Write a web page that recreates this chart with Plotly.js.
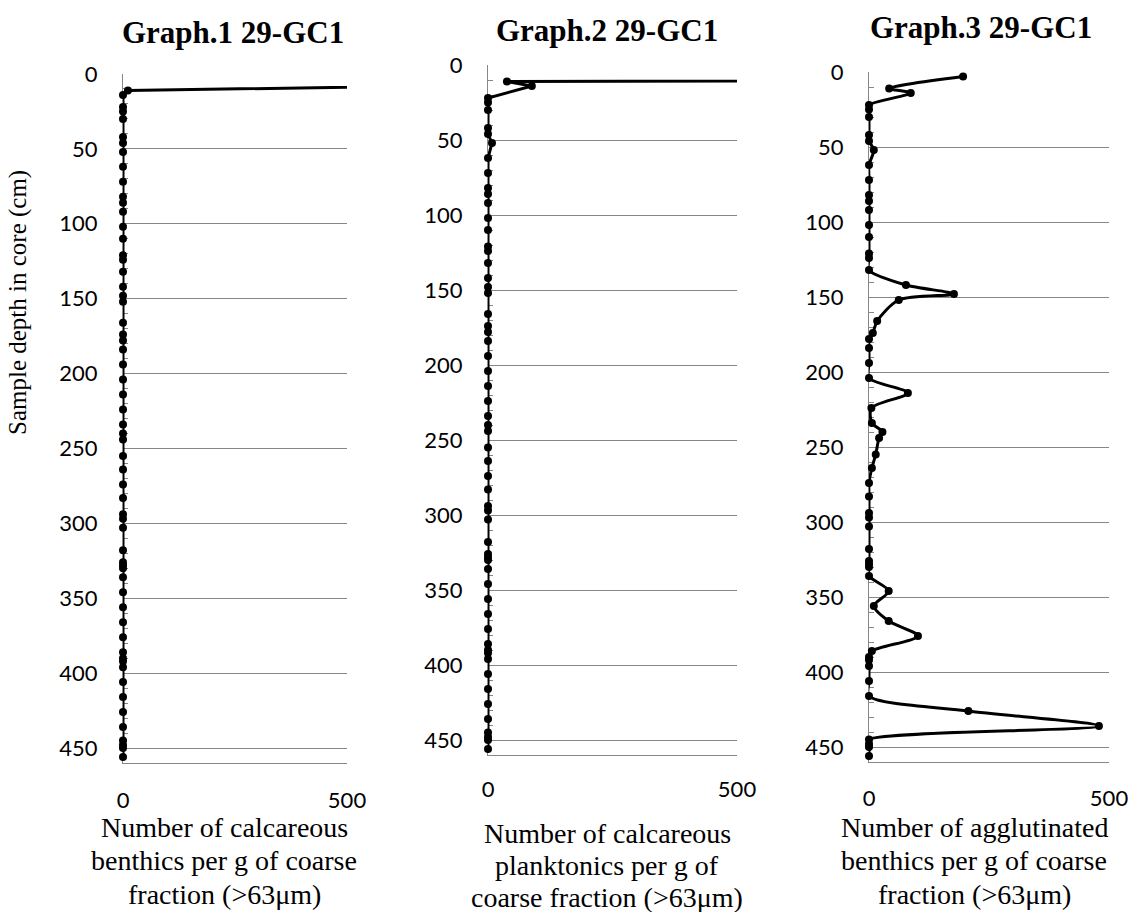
<!DOCTYPE html>
<html><head><meta charset="utf-8">
<script src="https://cdn.plot.ly/plotly-3.0.1.min.js"></script>
<style>html,body{margin:0;padding:0;background:#fff}#chart{width:1133px;height:912px}</style>
</head><body><div id="chart"></div>
<script>
// Sample depths (cm) shared by all three graphs
const depth = [3,11,14,22,25,30,42,46,52,62,
  72,82,86,92,102,110,121,124,132,142,
  148,152,166,174,178,184,194,204,214,224,
  234,240,244,255,264,274,283,294,297,303,
  318,326,328,330,336,346,356,366,376,386,
  390,392,396,406,416,426,436,445,448,450,
  456];
// Graph.1: calcareous benthics per g coarse fraction
const calcBenthics = [1850,11,0,0,0,0,0,0,0,0,
  0,0,0,0,0,0,0,0,0,0,
  0,0,0,0,0,0,0,0,0,0,
  0,0,0,0,0,0,0,0,0,0,
  0,0,0,0,0,0,0,0,0,0,
  0,0,0,0,0,0,0,0,0,0,
  0];
// Graph.2: calcareous planktonics per g coarse fraction
const calcPlanktonics = [10000,38,88,0,0,0,0,0,8,0,
  0,0,0,0,0,0,0,0,0,0,
  0,0,0,0,0,0,0,0,0,0,
  0,0,0,0,0,0,0,0,0,0,
  0,0,0,0,0,0,0,0,0,0,
  0,0,0,0,0,0,0,0,0,0,
  0];
// Graph.3: agglutinated benthics per g coarse fraction
const agglBenthics = [196,42,87,0,0,0,0,0,10,0,
  0,0,0,0,0,0,0,0,0,77,
  177,62,17,8,0,0,0,0,81,5,
  6,28,21,14,6,0,0,0,0,0,
  0,0,0,0,0,41,10,41,102,6,
  0,0,0,0,0,207,479,0,0,0,
  0];
const xTickVals = [0, 500];
const titles = ['Graph.1 29-GC1', 'Graph.2 29-GC1', 'Graph.3 29-GC1'];
const xTitles = [
  ['Number of calcareous', 'benthics per g of coarse', 'fraction (>63\u03bcm)'],
  ['Number of calcareous', 'planktonics per g of', 'coarse fraction (>63\u03bcm)'],
  ['Number of agglutinated', 'benthics per g of coarse', 'fraction (>63\u03bcm)']
];
const yTitle = 'Sample depth in core (cm)';

const W = 1133, H = 912;
const XMAX = 500;
const px = x => x / W;
const py = y => 1 - y / H;
const grey = '#878787';
const tickFont = {family: 'Lato, sans-serif', size: 22, color: '#000'};
const serif = "'Liberation Serif', 'Times New Roman', serif";

function yax(top, bottom, anchor) {
  return {domain: [py(bottom), py(top)], range: [460, 0], anchor: anchor,
    tick0: 0, dtick: 50, showgrid: true, gridcolor: grey, gridwidth: 1,
    zeroline: false, showline: true, linecolor: grey, linewidth: 1,
    ticks: 'inside', ticklen: 5, tickcolor: grey, tickfont: tickFont,
    ticklabelstandoff: 20, layer: 'below traces',
    minor: {dtick: 10, tick0: 0, ticks: 'inside', ticklen: 5, tickcolor: grey, showgrid: false},
    fixedrange: true};
}
function xax(l, r, anchor, standoff) {
  return {domain: [px(l), px(r)], range: [0, XMAX], anchor: anchor,
    tickvals: xTickVals, ticktext: xTickVals.map(String), showgrid: false, zeroline: false,
    showline: true, linecolor: grey, linewidth: 1, ticks: 'inside', ticklen: 6,
    tickcolor: grey, tickfont: tickFont, ticklabelstandoff: standoff,
    layer: 'below traces', fixedrange: true};
}
const lineStyle = {color: '#000', width: 3};
// hide markers of points lying beyond the visible x range (their line is clipped)
const markerFor = vals => ({color: '#000', opacity: 1, size: vals.map(v => v > XMAX ? 0 : 8),
  line: {width: 0}});
const traces = [
  {x: calcBenthics, y: depth, xaxis: 'x', yaxis: 'y', mode: 'lines+markers',
   line: lineStyle, marker: markerFor(calcBenthics), cliponaxis: false},
  {x: calcPlanktonics, y: depth, xaxis: 'x2', yaxis: 'y2', mode: 'lines+markers',
   line: lineStyle, marker: markerFor(calcPlanktonics), cliponaxis: false},
  {x: agglBenthics, y: depth, xaxis: 'x3', yaxis: 'y3', mode: 'lines+markers',
   line: Object.assign({shape: 'spline', smoothing: 0.8}, lineStyle),
   marker: markerFor(agglBenthics), cliponaxis: false}
];

const annotations = [];
const titlePos = [[233, 32], [607, 30], [981, 28]];
titles.forEach((t, i) => annotations.push({text: '<b>' + t + '</b>', xref: 'paper', yref: 'paper',
  x: px(titlePos[i][0]), y: py(titlePos[i][1]), xanchor: 'center', yanchor: 'middle',
  showarrow: false, font: {family: serif, size: 31, color: '#000'}}));
const xtPos = [[224, [827, 860, 894]], [607, [833, 865, 897]], [974, [827, 860, 894]]];
xTitles.forEach((lines, i) => lines.forEach((ln, j) => annotations.push({text: ln,
  xref: 'paper', yref: 'paper', x: px(xtPos[i][0]), y: py(xtPos[i][1][j]),
  xanchor: 'center', yanchor: 'middle', showarrow: false,
  font: {family: serif, size: 28, color: '#000'}})));
annotations.push({text: yTitle, xref: 'paper', yref: 'paper', x: px(18), y: py(303),
  xanchor: 'center', yanchor: 'middle', textangle: -90, showarrow: false,
  font: {family: serif, size: 25, color: '#000'}});

const layout = {
  width: W, height: H, margin: {l: 0, r: 0, t: 0, b: 0},
  paper_bgcolor: '#fff', plot_bgcolor: '#fff', showlegend: false,
  xaxis: xax(123, 347, 'y', 18), yaxis: yax(74, 763, 'x'),
  xaxis2: xax(488, 737, 'y2', 15), yaxis2: yax(65, 755, 'x2'),
  xaxis3: xax(869, 1109, 'y3', 17), yaxis3: yax(72, 762, 'x3'),
  annotations: annotations
};
Plotly.newPlot('chart', traces, layout, {displayModeBar: false, staticPlot: true});
</script></body></html>
